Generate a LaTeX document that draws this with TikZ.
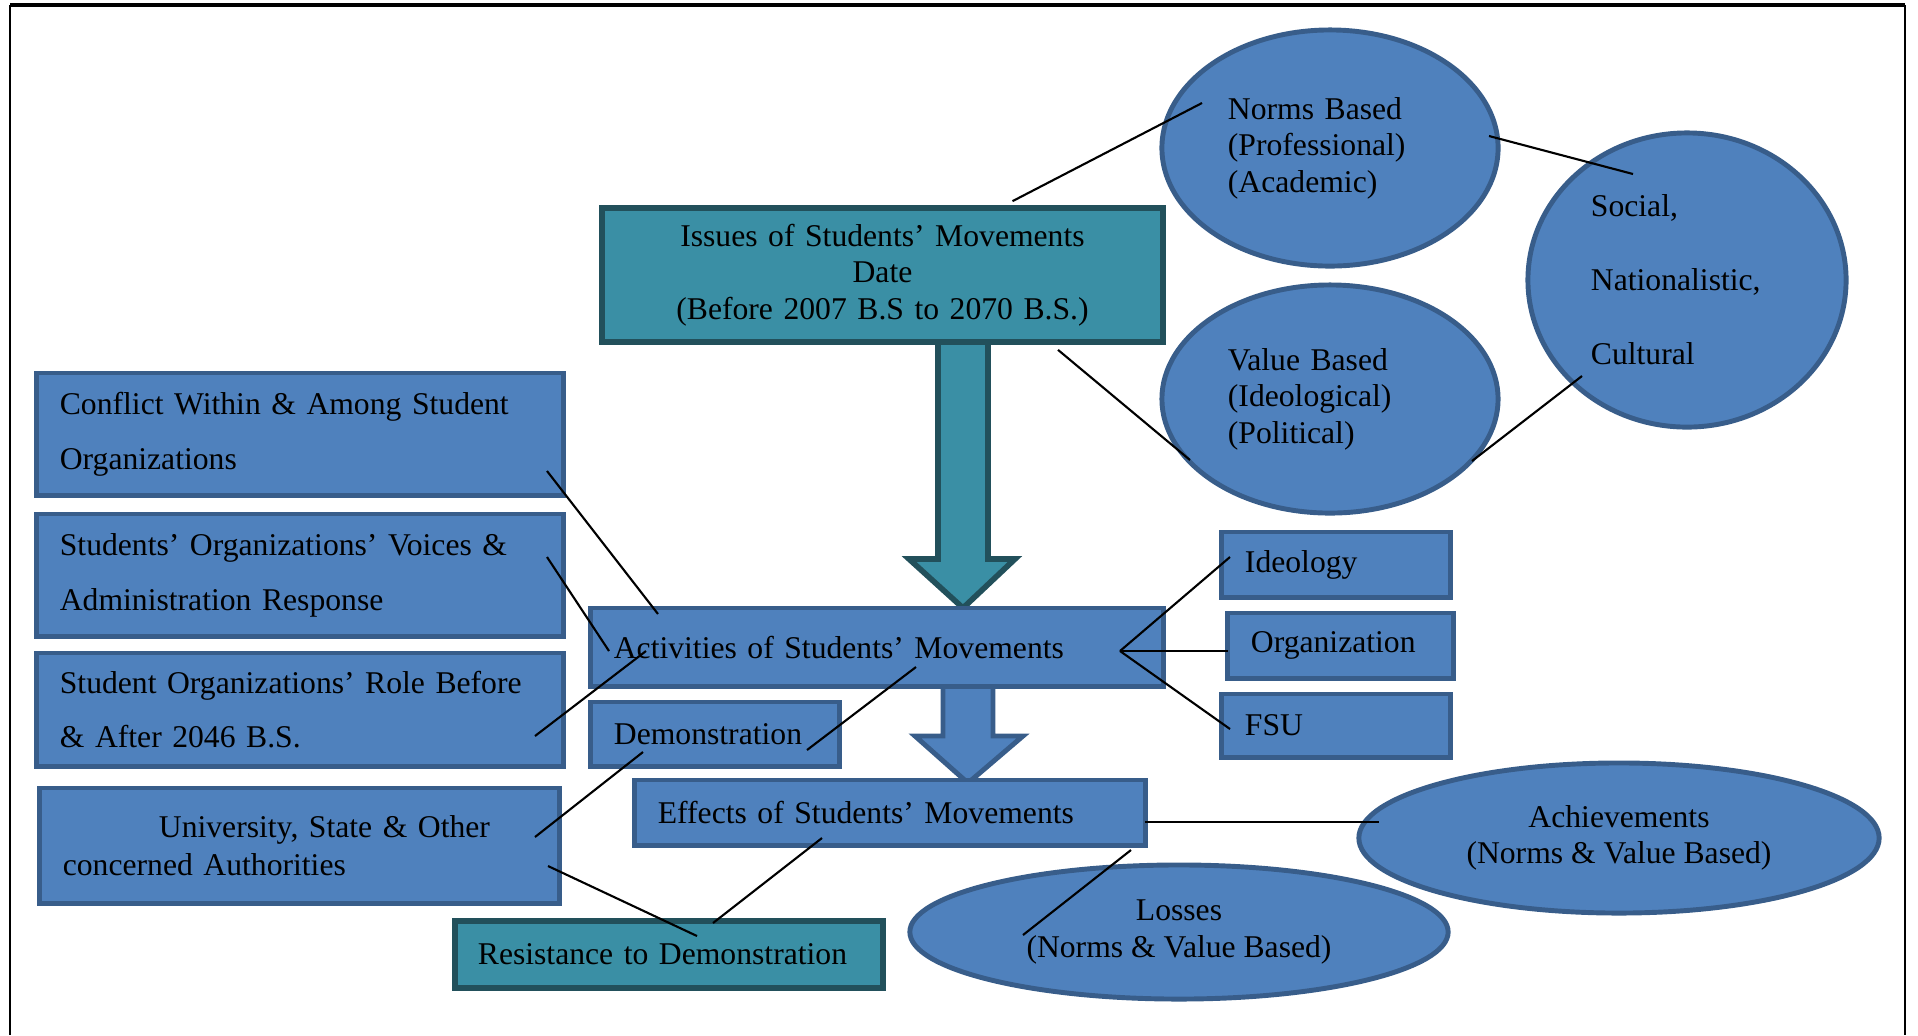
\documentclass[tikz,border=0pt]{standalone}
\usepackage{fontspec}
\setmainfont{Liberation Serif}
\usetikzlibrary{shapes.geometric}

\definecolor{boxblue}{HTML}{4F81BD}
\definecolor{boxedge}{HTML}{385D8A}
\definecolor{boxteal}{HTML}{3A8FA5}
\definecolor{tealedge}{HTML}{22505B}

\tikzset{
  bluebox/.style={draw=boxedge,fill=boxblue,line width=1.4pt,inner xsep=0.23cm,inner ysep=0pt,align=left},
  tealbox/.style={bluebox,draw=tealedge,fill=boxteal,line width=1.6pt},
  oval/.style={ellipse,draw=boxedge,fill=boxblue,line width=1.4pt,inner sep=0pt},
  link/.style={line width=0.6pt},
  wide/.style={font=\fontsize{9}{15.6}\selectfont},
}

\begin{document}
\begin{tikzpicture}[x=0.01cm,y=-0.01cm,font=\fontsize{9}{10.4}\selectfont]
        \useasboundingbox (0,0) rectangle (1918,1035);
        % frame
        \draw[line width=1.2pt] (10,5) -- (1905,5);
        \draw[line width=0.6pt] (10,5) -- (10,1035);
        \draw[line width=0.6pt] (1905,5) -- (1905,1035);

        % block arrows
        \draw[draw=tealedge,fill=boxteal,line width=1.6pt] (938,342) -- (938,559) -- (909,559) -- (963,608)
              -- (1015,559) -- (988,559) -- (988,342) -- cycle;
        \draw[draw=boxedge,fill=boxblue,line width=1.4pt] (943,686) -- (943,736) -- (915,736) -- (968,783)
              -- (1023,736) -- (993,736) -- (993,686) -- cycle;

        \node[tealbox,align=center,text width=5.15cm,minimum height=1.34cm] (iss) at (882.5,275)
              {Issues of Students’ Movements\\ Date\\ (Before 2007 B.S to 2070 B.S.)};
        \node[bluebox,text width=5.26cm,minimum height=0.78cm] (act) at (877,647) {Activities of Students’ Movements};
        \node[bluebox,text width=4.64cm,minimum height=0.65cm] (eff) at (890,812.5) {Effects of Students’ Movements};
        \node[bluebox,text width=2.02cm,minimum height=0.64cm] (demo) at (715,734) {Demonstration};
        \node[tealbox,text width=3.82cm,minimum height=0.67cm] (res) at (669,954.5) {Resistance to Demonstration};

        \node[bluebox,wide,text width=4.80cm,minimum height=1.22cm] (conf) at (300,434)
              {Conflict Within \& Among Student\\ Organizations};
        \node[bluebox,wide,text width=4.80cm,minimum height=1.22cm] (voice) at (300,575)
              {Students’ Organizations’ Voices \&\\ Administration Response};
        \node[bluebox,wide,text width=4.80cm,minimum height=1.13cm] (role) at (300,709.5)
              {Student Organizations’ Role Before\\ \& After 2046 B.S.};
        \node[bluebox,font=\fontsize{9}{10.8}\selectfont,text width=4.73cm,minimum height=1.15cm] (univ) at (299.5,845.5)
              {\hspace*{0.96cm}University, State \& Other\\ concerned Authorities};

        \node[bluebox,text width=1.82cm,minimum height=0.65cm] (ideo) at (1336,564.5) {Ideology};
        \node[bluebox,text width=1.79cm,minimum height=0.65cm] (org) at (1340.5,645.5) {Organization};
        \node[bluebox,text width=1.82cm,minimum height=0.63cm] (fsu) at (1336,725.5) {FSU};

        \node[oval,align=left,text width=2.04cm,minimum width=3.36cm,minimum height=2.36cm] (norms) at (1330,148)
              {Norms Based\\ (Professional)\\ (Academic)};
        \node[oval,align=left,text width=2.04cm,minimum width=3.36cm,minimum height=2.28cm] (value) at (1330,399)
              {Value Based\\ (Ideological)\\ (Political)};
        \node[oval,align=left,text width=1.92cm,font=\fontsize{9}{21}\selectfont,minimum width=3.18cm,minimum height=2.94cm] (social) at (1687,280)
              {Social,\\ Nationalistic,\\ Cultural};
        \node[oval,align=center,minimum width=5.20cm,minimum height=1.50cm] (ach) at (1619,838)
              {Achievements\\ (Norms \& Value Based)};
        \node[oval,align=center,minimum width=5.38cm,minimum height=1.34cm] (loss) at (1179,932)
              {Losses\\ (Norms \& Value Based)};

        \coordinate (hub) at ([shift={(243,4)}]act.center);

        \draw[link] ([shift={(130,-4)}]iss.north) -- ([shift={(-128,-45)}]norms.center);
        \draw[link] ([shift={(175.5,5)}]iss.south) -- ([shift={(-140,61)}]value.center);
        \draw[link] ([shift={(159,-12)}]norms.center) -- ([shift={(-54,-106)}]social.center);
        \draw[link] ([shift={(142,62)}]value.center) -- ([shift={(-105,96)}]social.center);

        \draw[link] ([shift={(247,37)}]conf.center) -- ([shift={(-219,-33)}]act.center);
        \draw[link] ([shift={(247,-18)}]voice.center) -- ([shift={(-268,4)}]act.center);
        \draw[link] ([shift={(235,26.5)}]role.center) -- ([shift={(-231,4)}]act.center);
        \draw[link] ([shift={(235.5,-8.5)}]univ.center) -- ([shift={(-72,18)}]demo.center);
        \draw[link] ([shift={(248.5,20.5)}]univ.center) -- ([shift={(28,-18.5)}]res.center);
        \draw[link] ([shift={(92,16)}]demo.center) -- ([shift={(39,20)}]act.center);

        \draw[link] ([shift={(-68,25.5)}]eff.center) -- ([shift={(44,-31.5)}]res.center);
        \draw[link] ([shift={(241,37.5)}]eff.center) -- ([shift={(-156,3)}]loss.center);
        \draw[link] ([shift={(255,9.5)}]eff.center) -- ([shift={(-240,-16)}]ach.center);

        \draw[link] (hub) -- ([shift={(-106,-7.5)}]ideo.center);
        \draw[link] (hub) -- ([shift={(-112.5,5.5)}]org.center);
        \draw[link] (hub) -- ([shift={(-106,3.5)}]fsu.center);
\end{tikzpicture}
\end{document}
